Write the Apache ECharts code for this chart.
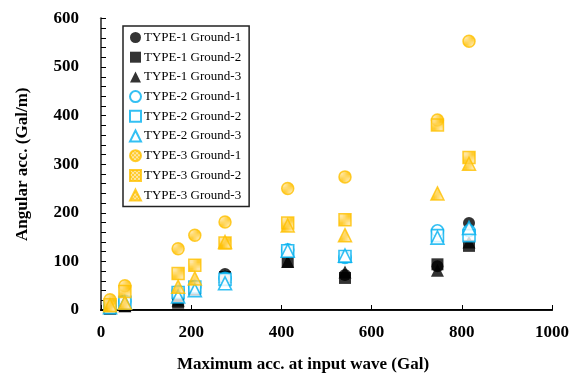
<!DOCTYPE html>
<html>
<head>
<meta charset="utf-8">
<script src="https://cdn.jsdelivr.net/npm/echarts@6/dist/echarts.min.js"></script>
<style>
  html, body { margin: 0; padding: 0; background: #fff; }
  #main { width: 582px; height: 378px; }
</style>
</head>
<body>
<div id="main"></div>
<script>
// input wave levels (Gal)
var inputAcc = [20, 53, 171, 208, 275, 414, 541, 746, 816];

// angular acc. (Gal/m)
var type1G1 = [5, 10, 22, 50, 74, 120, 72, 90, 179];
var type1G2 = [3, 8, 15, 42, 68, 99, 66, 94, 132];
var type1G3 = [4, 9, 20, 45, 70, 100, 78, 82, 140];
var type2G1 = [8, 18, 38, 48, 65, 124, 108, 163, 163];
var type2G2 = [7, 16, 36, 47, 63, 122, 110, 153, 153];
var type2G3 = [6, 15, 28, 41, 55, 122, 112, 149, 169];
var type3G1 = [21, 50, 126, 154, 181, 250, 274, 391, 553];
var type3G2 = [11, 38, 75, 92, 138, 179, 186, 381, 314];
var type3G3 = [10, 15, 48, 65, 140, 174, 154, 240, 301];

var xTicks = [0, 200, 400, 600, 800, 1000];
var yTicks = [0, 100, 200, 300, 400, 500, 600];

var BLACK = '#000000', CYAN = '#00B0F0', ORANGE = '#FFC000';
var FONT = 'Liberation Serif';

// light checker fill for the TYPE-3 markers
var pat = document.createElement('canvas');
pat.width = 4; pat.height = 4;
var pc = pat.getContext('2d');
pc.fillStyle = ORANGE; pc.fillRect(0, 0, 4, 4);
pc.fillStyle = '#FFE08A';
pc.fillRect(0, 0, 2, 2); pc.fillRect(2, 2, 2, 2);

function pairs(ys) {
    return inputAcc.map(function (x, i) { return [x, ys[i]]; });
}

function mk(name, ys, symbol, kind) {
    var style;
    if (kind == 1) style = { color: BLACK };
    else if (kind == 2) style = { color: '#fff', borderColor: CYAN, borderWidth: 1.6 };
    else style = { color: { image: pat, repeat: 'repeat' }, borderColor: ORANGE, borderWidth: 1.5 };
    return {
        name: name,
        type: 'scatter',
        symbol: symbol,
        symbolSize: symbol == 'triangle' ? 13 : 12,
        itemStyle: style,
        data: pairs(ys),
        emphasis: { disabled: true }
    };
}

var series = [
    mk('TYPE-1 Ground-1', type1G1, 'circle', 1),
    mk('TYPE-1 Ground-2', type1G2, 'rect', 1),
    mk('TYPE-1 Ground-3', type1G3, 'triangle', 1),
    mk('TYPE-2 Ground-1', type2G1, 'circle', 2),
    mk('TYPE-2 Ground-2', type2G2, 'rect', 2),
    mk('TYPE-2 Ground-3', type2G3, 'triangle', 2),
    mk('TYPE-3 Ground-1', type3G1, 'circle', 3),
    mk('TYPE-3 Ground-2', type3G2, 'rect', 3),
    mk('TYPE-3 Ground-3', type3G3, 'triangle', 3)
];

var myChart = echarts.init(document.getElementById('main'));

var option = {
    animation: false,
    grid: { left: 101, right: 30, top: 18.5, bottom: 62.5 },
    legend: {
        orient: 'vertical',
        left: 123,
        top: 26,
        padding: [5, 8, 5, 6],
        itemWidth: 11,
        itemHeight: 11,
        itemGap: 6.7,
        borderColor: '#222',
        borderWidth: 1.5,
        backgroundColor: '#fff',
        textStyle: { fontFamily: FONT, fontSize: 13, color: '#000', padding: [0, 0, 0, -2] },
        data: series.map(function (s) { return s.name; })
    },
    xAxis: [{
        type: 'value',
        min: xTicks[0],
        max: xTicks[xTicks.length - 1],
        interval: 200,
        name: 'Maximum acc. at input wave (Gal)',
        nameLocation: 'middle',
        nameGap: 46,
        nameTextStyle: { fontFamily: FONT, fontSize: 17, fontWeight: 'bold', color: '#000', padding: [0, 47, 0, 0] },
        axisLine: { onZero: false, lineStyle: { color: '#000', width: 2 } },
        axisTick: { inside: true, length: 5, lineStyle: { color: '#000', width: 1 } },
        axisLabel: {
            margin: 14, fontFamily: FONT, fontSize: 17, fontWeight: 'bold', color: '#000',
            formatter: function (v) { return String(v); }
        },
        splitLine: { show: false }
    }, {
        type: 'value',
        position: 'top',
        min: 0, max: 1000,
        axisLine: { show: true, lineStyle: { color: '#111', width: 1.2 } },
        axisTick: { show: false },
        axisLabel: { show: false },
        splitLine: { show: false }
    }],
    yAxis: [{
        type: 'value',
        min: yTicks[0],
        max: yTicks[yTicks.length - 1],
        interval: 100,
        name: 'Angular acc. (Gal/m)',
        nameLocation: 'middle',
        nameGap: 70,
        nameTextStyle: { fontFamily: FONT, fontSize: 17, fontWeight: 'bold', color: '#000' },
        axisLine: { show: true, onZero: false, lineStyle: { color: '#000', width: 2 } },
        axisTick: { show: true, inside: true, length: 5, lineStyle: { color: '#000', width: 1 } },
        minorTick: { show: true, splitNumber: 5, length: 5, lineStyle: { color: '#000', width: 1 } },
        axisLabel: {
            margin: 22, fontFamily: FONT, fontSize: 17, fontWeight: 'bold', color: '#000',
            formatter: function (v) { return String(v); }
        },
        splitLine: { show: false }
    }, {
        type: 'value',
        position: 'right',
        min: 0, max: 600,
        axisLine: { show: true, lineStyle: { color: '#595959', width: 2 } },
        axisTick: { show: false },
        axisLabel: { show: false },
        splitLine: { show: false }
    }],
    series: series
};

myChart.setOption(option);
</script>
</body>
</html>
